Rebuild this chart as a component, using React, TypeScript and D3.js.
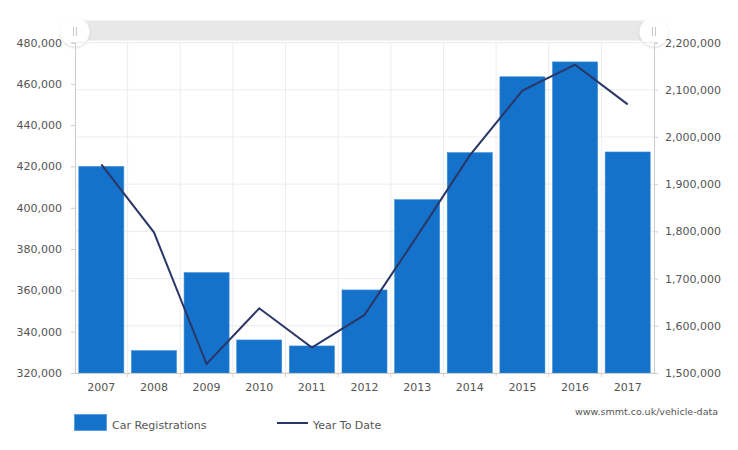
import React, { useRef, useEffect } from "react";
import * as d3 from "d3";

const years = ["2007", "2008", "2009", "2010", "2011", "2012", "2013", "2014", "2015", "2016", "2017"];
const carRegistrations = [420000, 330800, 368600, 336000, 333100, 360200, 403900, 426700, 463400, 470600, 427000];
const yearToDate = [1942000, 1798000, 1519000, 1637000, 1554000, 1623000, 1790000, 1961000, 2098000, 2153000, 2069000];
const leftTicks = [320000, 340000, 360000, 380000, 400000, 420000, 440000, 460000, 480000];
const rightTicks = [1500000, 1600000, 1700000, 1800000, 1900000, 2000000, 2100000, 2200000];

const App: React.FC = () => {
  const svgRef = useRef<SVGSVGElement>(null);

  useEffect(() => {
    const width = 738;
    const height = 450;
    const margin = { top: 42.5, right: 84, bottom: 77, left: 75 };
    const font = "'DejaVu Sans', Verdana, sans-serif";

    const svg = d3.select(svgRef.current);
    svg.selectAll("*").remove();
    svg.attr("width", width).attr("height", height);

    const plotW = width - margin.left - margin.right;
    const plotH = height - margin.top - margin.bottom;

    const x = d3.scaleBand().domain(years).range([0, plotW]).paddingInner(0).paddingOuter(0);
    const yLeft = d3.scaleLinear().domain([320000, 480000]).range([plotH, 0]);
    const yRight = d3.scaleLinear().domain([1500000, 2200000]).range([plotH, 0]);
    const fmt = d3.format(",");

    // scrollbar at top
    const sb = svg.append("g");
    sb.append("rect")
      .attr("x", margin.left)
      .attr("y", 20.5)
      .attr("width", plotW)
      .attr("height", 20)
      .attr("fill", "#e8e8e8");
    const defs = svg.append("defs");
    const filt = defs.append("filter").attr("id", "hs").attr("x", "-50%").attr("y", "-50%").attr("width", "200%").attr("height", "200%");
    filt.append("feDropShadow").attr("dx", 0).attr("dy", 1).attr("stdDeviation", 1.2).attr("flood-color", "#000").attr("flood-opacity", 0.18);
    [margin.left, margin.left + plotW].forEach(cx => {
      sb.append("circle")
        .attr("cx", cx)
        .attr("cy", 32)
        .attr("r", 14.5)
        .attr("fill", "#fff")
        .attr("filter", "url(#hs)");
      [-1.5, 1.5].forEach(dx => {
        sb.append("line")
          .attr("x1", cx + dx)
          .attr("x2", cx + dx)
          .attr("y1", 27)
          .attr("y2", 36)
          .attr("stroke", "#c8c8c8")
          .attr("stroke-width", 1);
      });
    });

    const g = svg.append("g").attr("transform", `translate(${margin.left},${margin.top})`);

    // grid: horizontal lines follow right axis, vertical lines at band edges
    g.append("g")
      .selectAll("line")
      .data(rightTicks)
      .enter()
      .append("line")
      .attr("x1", 0)
      .attr("x2", plotW)
      .attr("y1", d => yRight(d))
      .attr("y2", d => yRight(d))
      .attr("stroke", "#ececec");
    g.append("g")
      .selectAll("line")
      .data(years.slice(1))
      .enter()
      .append("line")
      .attr("x1", d => x(d)!)
      .attr("x2", d => x(d)!)
      .attr("y1", 0)
      .attr("y2", plotH)
      .attr("stroke", "#ececec");

    // bars
    const barPad = 3.8;
    g.append("g")
      .selectAll("rect")
      .data(years)
      .enter()
      .append("rect")
      .attr("x", d => x(d)! + barPad)
      .attr("width", x.bandwidth() - barPad * 2)
      .attr("y", (d, i) => yLeft(carRegistrations[i]))
      .attr("height", (d, i) => plotH - yLeft(carRegistrations[i]))
      .attr("fill", "#1472cb")
      .attr("stroke", "#3d8ed8")
      .attr("stroke-width", 0.6);

    // line
    const line = d3
      .line<number>()
      .x((d, i) => x(years[i])! + x.bandwidth() / 2)
      .y(d => yRight(d));
    g.append("path")
      .datum(yearToDate)
      .attr("d", line)
      .attr("fill", "none")
      .attr("stroke", "#2a3766")
      .attr("stroke-width", 2);

    // left axis
    const left = g.append("g")
      .call(d3.axisLeft(yLeft).tickValues(leftTicks).tickFormat(d => fmt(d as number)).tickSize(4).tickPadding(9));
    left.select(".domain").attr("stroke", "#cccccc");
    left.selectAll(".tick line").attr("stroke", "#cccccc");
    left.selectAll("text").attr("font-family", font).attr("font-size", 11).attr("fill", "#555");

    // right axis
    const right = g.append("g")
      .attr("transform", `translate(${plotW},0)`)
      .call(d3.axisRight(yRight).tickValues(rightTicks).tickFormat(d => fmt(d as number)).tickSize(4).tickPadding(7));
    right.select(".domain").attr("stroke", "#cccccc");
    right.selectAll(".tick line").attr("stroke", "#cccccc");
    right.selectAll("text").attr("font-family", font).attr("font-size", 11).attr("fill", "#555");

    // bottom axis
    const bottom = g.append("g")
      .attr("transform", `translate(0,${plotH})`)
      .call(d3.axisBottom(x).tickSize(0).tickPadding(10));
    bottom.select(".domain").attr("stroke", "#cccccc");
    bottom.selectAll("text").attr("font-family", font).attr("font-size", 11).attr("fill", "#555");
    bottom.selectAll(".edge")
      .data(years.slice(1))
      .enter()
      .append("line")
      .attr("x1", d => x(d)!)
      .attr("x2", d => x(d)!)
      .attr("y1", 0)
      .attr("y2", 4)
      .attr("stroke", "#e8cfc4");

    // legend
    const lg = svg.append("g");
    lg.append("rect")
      .attr("x", 74.5)
      .attr("y", 414.5)
      .attr("width", 32)
      .attr("height", 16)
      .attr("fill", "#1472cb")
      .attr("stroke", "#5aa0e0")
      .attr("stroke-width", 1);
    lg.append("text")
      .attr("x", 112)
      .attr("y", 428.5)
      .attr("font-family", font)
      .attr("font-size", 11)
      .attr("fill", "#555")
      .text("Car Registrations");
    lg.append("line")
      .attr("x1", 277)
      .attr("x2", 308)
      .attr("y1", 423)
      .attr("y2", 423)
      .attr("stroke", "#2a3766")
      .attr("stroke-width", 2);
    lg.append("text")
      .attr("x", 313)
      .attr("y", 428.5)
      .attr("font-family", font)
      .attr("font-size", 11)
      .attr("fill", "#555")
      .text("Year To Date");

    svg.append("text")
      .attr("x", 718)
      .attr("y", 415)
      .attr("text-anchor", "end")
      .attr("font-family", font)
      .attr("font-size", 9.5)
      .attr("fill", "#555")
      .text("www.smmt.co.uk/vehicle-data");
  }, []);

  return (
    <div style={{ position: "absolute", left: 0, top: 0, width: 738, height: 450, background: "#fff" }}>
      <svg ref={svgRef} style={{ display: "block" }} />
    </div>
  );
};

export default App;
